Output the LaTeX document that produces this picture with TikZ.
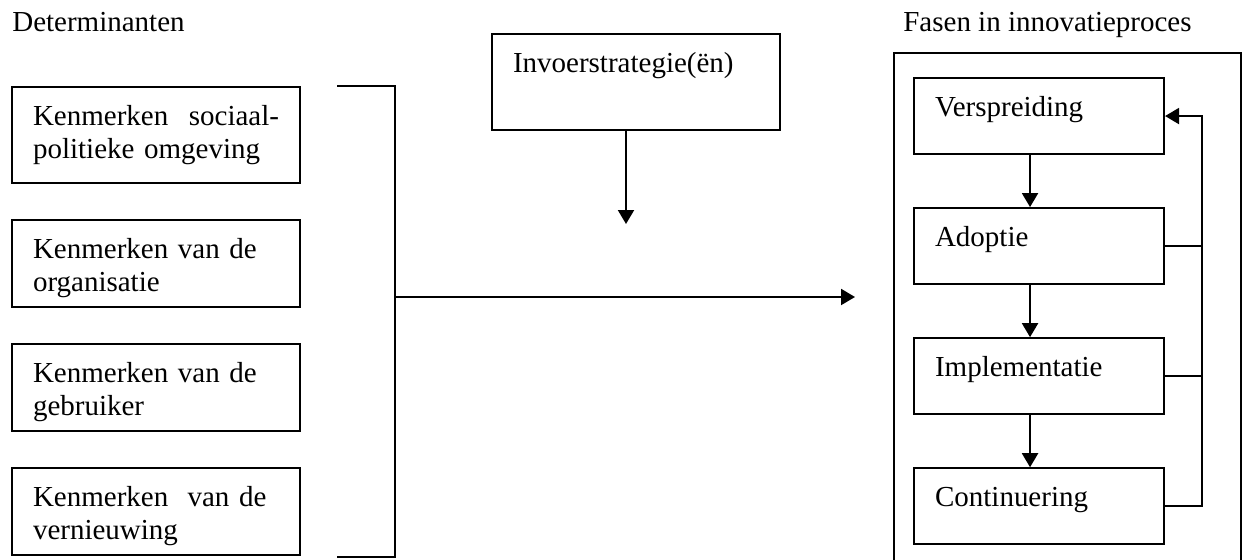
\documentclass[tikz,border=0pt]{standalone}
\usepackage{fontspec}
\setmainfont{Liberation Serif}
\usetikzlibrary{positioning,arrows.meta}

\tikzset{
  lijn/.style={line width=1.2pt},
  kop/.style={anchor=base west, inner sep=0pt},
  blok/.style={draw, lijn, anchor=north west, align=left,
    inner xsep=0.42cm, inner ysep=0pt, text height=0.76cm},
  kenmerk/.style={blok, text width=4.92cm, text depth=0.98cm},
  fase/.style={blok, text width=4.16cm, text depth=0.76cm},
  pijl/.style={lijn, -{Triangle[length=0.28cm,width=0.32cm]}}
}

\begin{document}
\begin{tikzpicture}[x=0.02cm, y=-0.02cm, font=\fontsize{16.5}{18.8}\selectfont]
    \useasboundingbox (0,0) rectangle (1247,560);
    \clip (0,0) rectangle (1247,560);

    % determinanten
    \node[kop] (det) at (12,32) {Determinanten};
    \node[kenmerk, text depth=1.16cm] (k1) at (11,86) {Kenmerken\hfill sociaal-\\politieke omgeving};
    \node[kenmerk, below=0.7cm of k1] (k2) {Kenmerken van de\\organisatie};
    \node[kenmerk, below=0.7cm of k2] (k3) {Kenmerken van de\\gebruiker};
    \node[kenmerk, below=0.7cm of k3] (k4) {Kenmerken\ \ van de\\vernieuwing};

    \coordinate (hb) at (337,86);
    \coordinate (lb) at (337,557);
    \coordinate (rug) at (395,0);
    \draw[lijn] (hb) -- (hb -| rug) -- (lb -| rug) -- (lb);

    % invoerstrategie
    \node[kenmerk, text depth=1.16cm] (inv) at (491,33) {Invoerstrategie(ën)};
    \coordinate (invpunt) at (626,224);
    \draw[pijl] (inv.south -| invpunt) -- (invpunt);

    \coordinate (samen) at (395,297);
    \coordinate (doel) at (855,297);
    \draw[pijl] (samen) -- (doel);

    % fasen
    \node[kop] (fas) at (903,32) {Fasen in innovatieproces};
    \node[draw, lijn, anchor=north west, inner sep=0pt,
          minimum width=6.94cm, minimum height=12cm] (kader) at (893,52) {};
    \node[fase] (ver) at (913,77) {Verspreiding};
    \node[fase, below=1.04cm of ver] (ado) {Adoptie};
    \node[fase, below=1.04cm of ado] (imp) {Implementatie};
    \node[fase, below=1.04cm of imp] (con) {Continuering};

    \foreach \a/\b in {ver/ado, ado/imp, imp/con}
        \draw[pijl] ([xshift=-0.18cm]\a.south) -- ([xshift=-0.18cm]\b.north);

    % terugkoppeling
    \coordinate (terug) at (1202,0);
    \draw[pijl] (con.east) -- (con.east -| terug) |- (ver.east);
    \draw[lijn] (ado.east) -- (ado.east -| terug);
    \draw[lijn] (imp.east) -- (imp.east -| terug);
\end{tikzpicture}
\end{document}
